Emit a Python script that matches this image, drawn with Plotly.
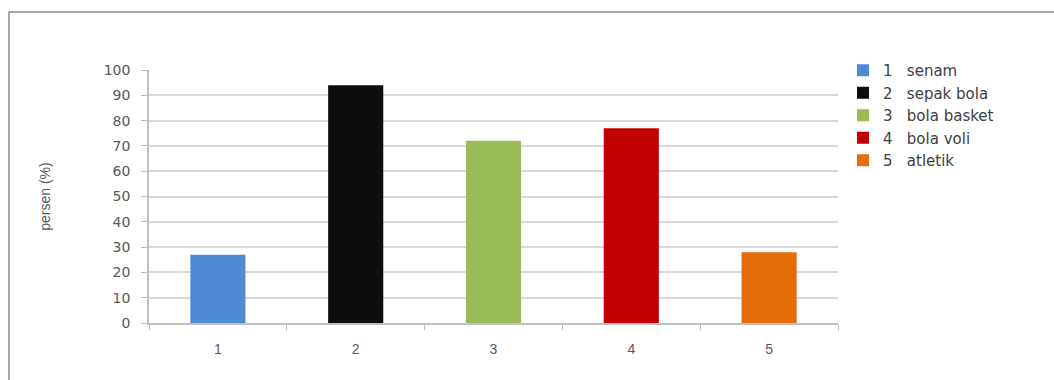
import plotly.graph_objects as go

categories = ["1", "2", "3", "4", "5"]
labels = ["senam", "sepak bola", "bola basket", "bola voli", "atletik"]
values = [27, 94, 72, 77, 28]
colors = ["#4f8ad6", "#0d0d0d", "#9bbb59", "#c00000", "#e46c0a"]
y_ticks = list(range(0, 101, 10))

fig = go.Figure()
for i, (c, lab, v, col) in enumerate(zip(categories, labels, values, colors)):
    fig.add_trace(go.Bar(
        x=[c], y=[v], name=f"{c}   {lab}", marker=dict(color=col, line=dict(width=0)),
        width=0.4, legendgroup=c, showlegend=True,
    ))

L, R, T, B = 149, 216, 70, 57
W, H = 1054, 380
pw, ph = W - L - R, H - T - B

def px_x(p):
    return (p - L) / pw

def px_y(p):
    return (H - B - p) / ph

fig.update_layout(
    width=W, height=H,
    margin=dict(l=L, r=R, t=T, b=B, pad=0),
    paper_bgcolor="white", plot_bgcolor="white",
    barmode="overlay",
    font=dict(family="DejaVu Sans", color="#595959", size=13),
    showlegend=True,
    legend=dict(
        x=px_x(843), y=px_y(54), xanchor="left", yanchor="top",
        font=dict(family="DejaVu Sans", size=15, color="#404040"),
        tracegroupgap=0, itemwidth=30, bgcolor="rgba(0,0,0,0)",
    ),
    xaxis=dict(
        type="category", categoryorder="array", categoryarray=categories,
        showgrid=False, showline=True, linecolor="#bfbfbf", linewidth=1.5,
        ticks="outside", tickson="boundaries", ticklen=5, tickcolor="#bfbfbf",
        ticklabelstandoff=12,
        tickfont=dict(family="Liberation Sans Narrow, Liberation Sans", size=14, color="#595959"),
        zeroline=False,
    ),
    yaxis=dict(
        range=[0, 100], tickvals=y_ticks, showgrid=True, gridcolor="#d9d9d9", gridwidth=1.5,
        showline=True, linecolor="#bfbfbf", linewidth=1.5,
        ticks="outside", ticklen=6, tickcolor="#bfbfbf",
        ticklabelstandoff=8,
        tickfont=dict(family="DejaVu Sans", size=14, color="#595959"),
        title=dict(text="persen (%)", standoff=50,
                   font=dict(family="Liberation Sans Narrow, Liberation Sans", size=14, color="#595959")),
        zeroline=False,
    ),
    shapes=[dict(
        type="rect", xref="paper", yref="paper",
        x0=px_x(9), x1=px_x(1070), y0=px_y(395), y1=px_y(12),
        line=dict(color="#8c8c8c", width=1.5), fillcolor="rgba(0,0,0,0)", layer="below",
    )],
)

fig.write_html("out.html")
